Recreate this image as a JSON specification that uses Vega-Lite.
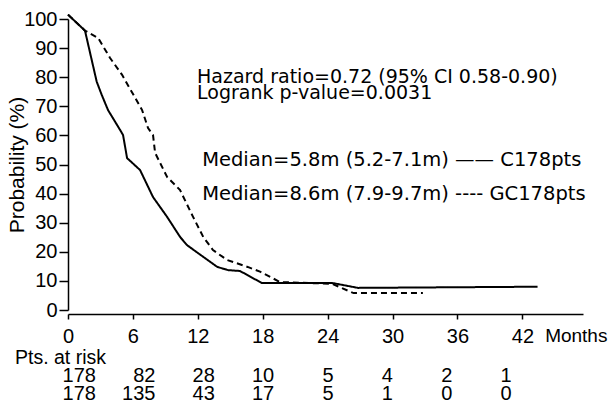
{
  "$schema": "https://vega.github.io/schema/vega-lite/v6.json",
  "width": 515,
  "height": 291,
  "autosize": {"type": "none"},
  "padding": {"left": 68, "top": 19, "right": 29, "bottom": 104},
  "background": "white",
  "config": {
    "font": "Liberation Sans",
    "view": {"stroke": null},
    "text": {"color": "black", "font": "DejaVu Sans"},
    "axisY": {
      "tickSize": 9, "labelPadding": 2, "labelFontSize": 20, "labelColor": "black",
      "domainColor": "black", "domainWidth": 1.5, "tickColor": "black", "tickWidth": 1.5,
      "grid": false, "titleFontSize": 21, "titleFontWeight": "normal", "titleColor": "black",
      "titlePadding": -4, "labelOverlap": false, "labelFont": "Liberation Sans", "titleFont": "Liberation Sans"
    }
  },
  "datasets": {
    "curves": [
      {"arm": "C", "month": 0, "prob": 101.5},
      {"arm": "C", "month": 1.57, "prob": 96},
      {"arm": "C", "month": 2.65, "prob": 78.5},
      {"arm": "C", "month": 3.12, "prob": 73.9},
      {"arm": "C", "month": 3.7, "prob": 68.7},
      {"arm": "C", "month": 4.81, "prob": 61.9},
      {"arm": "C", "month": 5.09, "prob": 60.1},
      {"arm": "C", "month": 5.46, "prob": 52.2},
      {"arm": "C", "month": 6.66, "prob": 48.1},
      {"arm": "C", "month": 7.86, "prob": 38.8},
      {"arm": "C", "month": 9.16, "prob": 32.0},
      {"arm": "C", "month": 10.36, "prob": 25.1},
      {"arm": "C", "month": 11.0, "prob": 22.3},
      {"arm": "C", "month": 12.0, "prob": 19.6},
      {"arm": "C", "month": 13.8, "prob": 14.8},
      {"arm": "C", "month": 14.8, "prob": 13.7},
      {"arm": "C", "month": 15.9, "prob": 13.4},
      {"arm": "C", "month": 17.9, "prob": 9.3},
      {"arm": "C", "month": 24.4, "prob": 9.3},
      {"arm": "C", "month": 26.8, "prob": 7.6},
      {"arm": "C", "month": 43.4, "prob": 8.0},
      {"arm": "GC", "month": 0, "prob": 101.5},
      {"arm": "GC", "month": 1.57, "prob": 96},
      {"arm": "GC", "month": 2.78, "prob": 93.5},
      {"arm": "GC", "month": 3.89, "prob": 86.6},
      {"arm": "GC", "month": 5.0, "prob": 80.8},
      {"arm": "GC", "month": 6.85, "prob": 68.7},
      {"arm": "GC", "month": 7.4, "prob": 62.5},
      {"arm": "GC", "month": 7.86, "prob": 60.1},
      {"arm": "GC", "month": 8.05, "prob": 54.0},
      {"arm": "GC", "month": 9.16, "prob": 45.7},
      {"arm": "GC", "month": 10.36, "prob": 41.2},
      {"arm": "GC", "month": 11.56, "prob": 32.0},
      {"arm": "GC", "month": 12.5, "prob": 25.1},
      {"arm": "GC", "month": 13.4, "prob": 20.6},
      {"arm": "GC", "month": 14.7, "prob": 17.2},
      {"arm": "GC", "month": 16.6, "prob": 14.8},
      {"arm": "GC", "month": 17.8, "prob": 13.1},
      {"arm": "GC", "month": 19.6, "prob": 9.6},
      {"arm": "GC", "month": 24.4, "prob": 9.0},
      {"arm": "GC", "month": 26.4, "prob": 5.8},
      {"arm": "GC", "month": 32.8, "prob": 5.8}
    ],
    "risk": [
      {"arm": "C", "month": 0, "n": 178},
      {"arm": "C", "month": 6, "n": 82},
      {"arm": "C", "month": 12, "n": 28},
      {"arm": "C", "month": 18, "n": 10},
      {"arm": "C", "month": 24, "n": 5},
      {"arm": "C", "month": 30, "n": 4},
      {"arm": "C", "month": 36, "n": 2},
      {"arm": "C", "month": 42, "n": 1},
      {"arm": "GC", "month": 0, "n": 178},
      {"arm": "GC", "month": 6, "n": 135},
      {"arm": "GC", "month": 12, "n": 43},
      {"arm": "GC", "month": 18, "n": 17},
      {"arm": "GC", "month": 24, "n": 5},
      {"arm": "GC", "month": 30, "n": 1},
      {"arm": "GC", "month": 36, "n": 0},
      {"arm": "GC", "month": 42, "n": 0}
    ],
    "one": [{}]
  },
  "resolve": {"scale": {"x": "independent", "y": "independent"}},
  "layer": [
    {
      "layer": [
        {
          "data": {"name": "curves"},
          "mark": {"type": "line", "color": "black", "strokeWidth": 2, "interpolate": "linear"},
          "encoding": {
            "x": {
              "field": "month", "type": "quantitative",
              "scale": {"domain": [0, 47.6], "nice": false, "zero": false},
              "axis": {
                "title": null, "values": [0, 6, 12, 18, 24, 30, 36, 42],
                "offset": 4, "tickSize": 5, "labelPadding": 7, "labelFontSize": 20,
                "labelColor": "black", "domainColor": "black", "domainWidth": 1.5,
                "tickColor": "black", "tickWidth": 1.5, "grid": false, "labelFlush": false,
                "labelOverlap": false, "labelFont": "Liberation Sans"
              }
            },
            "y": {
              "field": "prob", "type": "quantitative",
              "scale": {"domain": [0, 100], "nice": false, "zero": false},
              "axis": {"title": "Probability (%)", "values": [0, 10, 20, 30, 40, 50, 60, 70, 80, 90, 100]}
            },
            "strokeDash": {
              "field": "arm", "type": "nominal",
              "scale": {"domain": ["C", "GC"], "range": [[1, 0], [6, 4]]},
              "legend": null
            }
          }
        },
        {
          "data": {"name": "one"},
          "mark": {"type": "text", "text": "Hazard ratio=0.72 (95% CI 0.58-0.90)", "align": "left", "baseline": "alphabetic", "fontSize": 19},
          "encoding": {"x": {"datum": 11.93, "type": "quantitative"}, "y": {"datum": 78.0, "type": "quantitative", "axis": {"title": "Probability (%)", "values": [0, 10, 20, 30, 40, 50, 60, 70, 80, 90, 100]}}}
        },
        {
          "data": {"name": "one"},
          "mark": {"type": "text", "text": "Logrank p-value=0.0031", "align": "left", "baseline": "alphabetic", "fontSize": 19},
          "encoding": {"x": {"datum": 11.93, "type": "quantitative"}, "y": {"datum": 72.6, "type": "quantitative", "axis": {"title": "Probability (%)", "values": [0, 10, 20, 30, 40, 50, 60, 70, 80, 90, 100]}}}
        },
        {
          "data": {"name": "one"},
          "mark": {"type": "text", "text": "Median=5.8m (5.2-7.1m) —— C178pts", "align": "left", "baseline": "alphabetic", "fontSize": 19.5},
          "encoding": {"x": {"datum": 12.4, "type": "quantitative"}, "y": {"datum": 49.5, "type": "quantitative", "axis": {"title": "Probability (%)", "values": [0, 10, 20, 30, 40, 50, 60, 70, 80, 90, 100]}}}
        },
        {
          "data": {"name": "one"},
          "mark": {"type": "text", "text": "Median=8.6m (7.9-9.7m) ---- GC178pts", "align": "left", "baseline": "alphabetic", "fontSize": 19.5},
          "encoding": {"x": {"datum": 12.4, "type": "quantitative"}, "y": {"datum": 37.8, "type": "quantitative", "axis": {"title": "Probability (%)", "values": [0, 10, 20, 30, 40, 50, 60, 70, 80, 90, 100]}}}
        },
        {
          "data": {"name": "one"},
          "mark": {"type": "text", "text": "Months", "align": "left", "baseline": "alphabetic", "fontSize": 19, "font": "Liberation Sans"},
          "encoding": {"x": {"datum": 44.1, "type": "quantitative"}, "y": {"datum": -11.0, "type": "quantitative", "axis": {"title": "Probability (%)", "values": [0, 10, 20, 30, 40, 50, 60, 70, 80, 90, 100]}}}
        },
        {
          "data": {"name": "one"},
          "mark": {"type": "text", "text": "Pts. at risk", "align": "left", "baseline": "alphabetic", "fontSize": 19.5, "font": "Liberation Sans"},
          "encoding": {"x": {"datum": -4.9, "type": "quantitative"}, "y": {"datum": -18.7, "type": "quantitative", "axis": {"title": "Probability (%)", "values": [0, 10, 20, 30, 40, 50, 60, 70, 80, 90, 100]}}}
        }
      ]
    },
    {
      "data": {"name": "risk"},
      "layer": [
        {
          "transform": [{"filter": "datum.arm === 'C'"}],
          "mark": {"type": "text", "align": "right", "baseline": "alphabetic", "fontSize": 20, "font": "Liberation Sans"},
          "encoding": {
            "x": {"field": "month", "type": "quantitative", "scale": {"domain": [-2.828, 49.2], "nice": false, "zero": false}, "axis": null},
            "y": {"datum": -24.8, "type": "quantitative", "scale": {"domain": [0, 100], "nice": false, "zero": false}, "axis": null},
            "text": {"field": "n", "type": "quantitative"}
          }
        },
        {
          "transform": [{"filter": "datum.arm === 'GC'"}],
          "mark": {"type": "text", "align": "right", "baseline": "alphabetic", "fontSize": 20, "font": "Liberation Sans"},
          "encoding": {
            "x": {"field": "month", "type": "quantitative", "scale": {"domain": [-2.828, 49.2], "nice": false, "zero": false}, "axis": null},
            "y": {"datum": -31.0, "type": "quantitative", "scale": {"domain": [0, 100], "nice": false, "zero": false}, "axis": null},
            "text": {"field": "n", "type": "quantitative"}
          }
        }
      ]
    }
  ]
}
